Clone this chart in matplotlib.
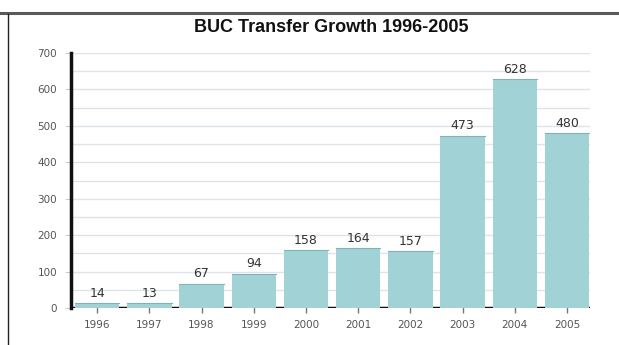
import matplotlib
matplotlib.use("Agg")
import matplotlib.pyplot as plt
from matplotlib.lines import Line2D
import numpy as np

years = ["1996", "1997", "1998", "1999", "2000", "2001", "2002", "2003", "2004", "2005"]
transfers = [14, 13, 67, 94, 158, 164, 157, 473, 628, 480]
y_ticks = [0, 100, 200, 300, 400, 500, 600, 700]

plt.rcParams["font.family"] = ["Liberation Sans", "DejaVu Sans"]

fig = plt.figure(figsize=(6.19, 3.45), dpi=100)
fig.patch.set_facecolor("white")

# frame around the chart panel
fig.add_artist(Line2D([0, 1], [1 - 13 / 345, 1 - 13 / 345], color="#5a5a5a", lw=2.2,
                      transform=fig.transFigure))
fig.add_artist(Line2D([8 / 619, 8 / 619], [0, 1 - 14 / 345], color="#222222", lw=1.0,
                      transform=fig.transFigure))

ax = fig.add_axes([71 / 619, 1 - 308 / 345, (590 - 71) / 619, (308 - 53) / 345])

x = np.arange(len(years))
ax.set_xlim(-0.5, 9.44)
ax.set_ylim(0, 700)

# light horizontal guide lines every 50
for v in np.arange(50, 701, 50):
    ax.axhline(v, color="#dde5ea", lw=1.0, zorder=0)

ax.axhline(0, color="#111111", lw=2.5, zorder=1)
bars = ax.bar(x, transfers, width=0.85, color="#a0d2d6", edgecolor="none", zorder=2)
for xi, v in zip(x, transfers):
    ax.plot([xi - 0.425, xi + 0.425], [v, v], color="#7fb3b8", lw=0.8, zorder=3)
    ax.text(xi, v + 9, str(v), ha="center", va="bottom", fontsize=9,
            family=["DejaVu Sans"], color="#333333")

for s in ["top", "right", "bottom"]:
    ax.spines[s].set_visible(False)
ax.spines["left"].set_linewidth(2.5)
ax.spines["left"].set_color("#111111")

ax.set_xticks(x)
ax.set_xticklabels(years, fontsize=7.5, color="#555555", family=["DejaVu Sans"])
ax.tick_params(axis="x", direction="inout", length=7, width=1, color="#777777", pad=5)
ax.set_yticks(y_ticks)
ax.set_yticklabels([str(v) for v in y_ticks], fontsize=7.5, color="#555555",
                   family=["DejaVu Sans"])
ax.tick_params(axis="y", length=4, width=0.8, color="#cccccc", pad=6)

fig.text(331 / 619, 1 - 27 / 345, "BUC Transfer Growth 1996-2005", ha="center", va="center",
         fontsize=13, fontweight="bold", color="#111111")

fig.savefig("out.png", dpi=100, facecolor="white")
